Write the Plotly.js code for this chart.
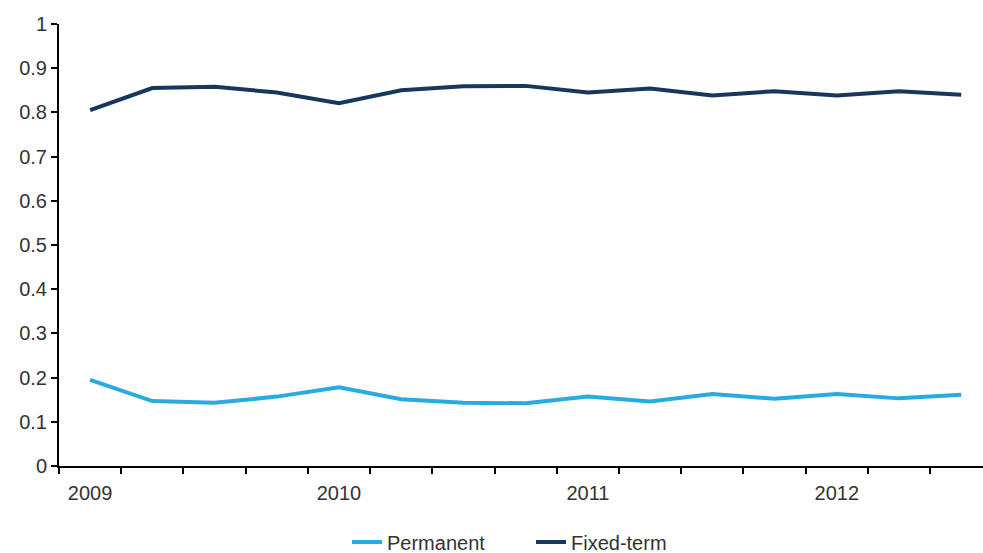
<!DOCTYPE html>
<html>
<head>
<meta charset="utf-8">
<script src="https://cdn.plot.ly/plotly-3.0.1.min.js"></script>
<style>html,body{margin:0;padding:0;background:#fff;}#chart{width:983px;height:553px;}</style>
</head>
<body>
<div id="chart"></div>
<script>
const quarters = ["2009 Q1","2009 Q2","2009 Q3","2009 Q4","2010 Q1","2010 Q2","2010 Q3","2010 Q4","2011 Q1","2011 Q2","2011 Q3","2011 Q4","2012 Q1","2012 Q2","2012 Q3"];
const permanent = [0.195,0.147,0.143,0.157,0.178,0.151,0.143,0.142,0.157,0.146,0.163,0.152,0.163,0.153,0.161];
const fixedTerm = [0.805,0.855,0.858,0.845,0.821,0.850,0.859,0.860,0.845,0.854,0.838,0.848,0.838,0.848,0.840];
const yearLabels = ["2009","2010","2011","2012"];

const xIdx = quarters.map((q, i) => i);
const yearTickVals = quarters.map((q, i) => i).filter(i => quarters[i].endsWith("Q1"));

const traces = [
  {x: xIdx, y: permanent, name: "Permanent", type: "scatter", mode: "lines",
   line: {color: "#29abe2", width: 4}, hovertext: quarters},
  {x: xIdx, y: fixedTerm, name: "Fixed-term", type: "scatter", mode: "lines",
   line: {color: "#17375e", width: 4}, hovertext: quarters}
];

const layout = {
  width: 983, height: 553,
  margin: {l: 59, r: 0, t: 24, b: 87},
  paper_bgcolor: "#fff", plot_bgcolor: "#fff",
  font: {family: "Liberation Sans, Arial, sans-serif", size: 20, color: "#333"},
  showlegend: true,
  legend: {orientation: "h", xref: "container", yref: "container",
           x: 347/983, xanchor: "left", y: 11/553, yanchor: "middle",
           entrywidth: 139, entrywidthmode: "pixels",
           font: {size: 20, color: "#333"}, traceorder: "normal"},
  xaxis: {
    range: [-0.5, 14.35], showgrid: false, zeroline: false,
    showline: true, linecolor: "#000", linewidth: 2,
    tickmode: "array", tickvals: yearTickVals, ticktext: yearLabels,
    ticks: "", ticklabelstandoff: 8,
    minor: {ticks: "outside", tick0: -0.5, dtick: 1, ticklen: 6, tickwidth: 2, tickcolor: "#000", showgrid: false}
  },
  yaxis: {
    range: [0, 1], dtick: 0.1, tick0: 0, showgrid: false, zeroline: false,
    showline: true, linecolor: "#000", linewidth: 2,
    ticks: "outside", ticklen: 6, tickwidth: 2, tickcolor: "#000",
    tickformat: "~g"
  }
};

Plotly.newPlot("chart", traces, layout, {displayModeBar: false, staticPlot: true});
</script>
</body>
</html>
